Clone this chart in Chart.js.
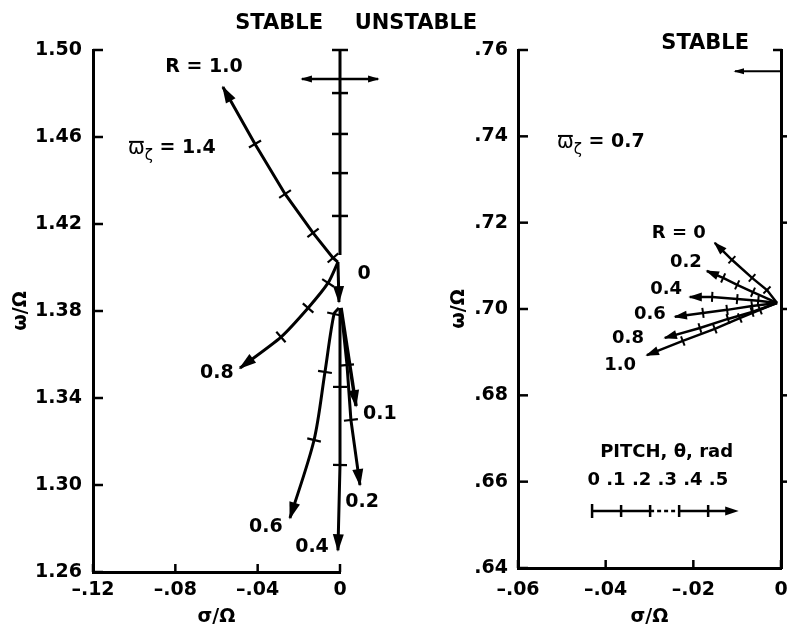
<!DOCTYPE html>
<html><head><meta charset="utf-8">
<script src="https://cdn.jsdelivr.net/npm/chart.js@4.4.1/dist/chart.umd.min.js"></script>
<style>
html,body{margin:0;padding:0;background:#fff;overflow:hidden;}
#wrap{position:relative;width:787px;height:628px;overflow:hidden;background:#fff;}
canvas{position:absolute;top:0;}
</style></head><body>
<div id="wrap">
<canvas id="leftChart" width="500" height="628" style="left:0px"></canvas>
<canvas id="rightChart" width="400" height="628" style="left:420px"></canvas>
</div>
<script>
// ===== Left panel (omega_zeta = 1.4) =====
const leftXTicks = [-0.12, -0.08, -0.04, 0];
const leftXTickLabels = ['\u2013.12', '\u2013.08', '\u2013.04', '0'];
const leftYTicks = [1.26, 1.30, 1.34, 1.38, 1.42, 1.46, 1.50];
const leftYTickLabels = ['1.26', '1.30', '1.34', '1.38', '1.42', '1.46', '1.50'];

const leftR10Sigma = [-0.0010, -0.0034, -0.0131, -0.0267, -0.0413, -0.0569];
const leftR10Omega = [1.4025, 1.4044, 1.4159, 1.4338, 1.4568, 1.4830];
const leftR08Sigma = [-0.0010, -0.0058, -0.0155, -0.0287, -0.0486];
const leftR08Omega = [1.4025, 1.3929, 1.3814, 1.3680, 1.3538];
const leftR0Sigma  = [-0.0010, -0.0005];
const leftR0Omega  = [1.4025, 1.3841];
const leftR01Sigma = [0.0005, 0.0078];
const leftR01Omega = [1.3814, 1.3363];
const leftR02Sigma = [0.0005, 0.0034, 0.0053, 0.0097];
const leftR02Omega = [1.3814, 1.3552, 1.3299, 1.3000];
const leftR04Sigma = [0.0000, 0.0000, 0.0000, -0.0010];
const leftR04Omega = [1.3814, 1.3451, 1.3092, 1.2700];
const leftR06Sigma = [-0.0005, -0.0029, -0.0073, -0.0126, -0.0243];
const leftR06Omega = [1.3814, 1.3786, 1.3520, 1.3207, 1.2848];
// stability boundary sigma = 0 with marks, and stable/unstable double arrow
const leftBoundSigma = [0, 0, 0, 0, 0, 0];
const leftBoundOmega = [1.5000, 1.4802, 1.4614, 1.4434, 1.4237, 1.4057];
const leftDirSigma = [-0.0185, 0.0185];
const leftDirOmega = [1.4867, 1.4867];

// ===== Right panel (omega_zeta = 0.7) =====
const rightXTicks = [-0.06, -0.04, -0.02, 0];
const rightXTickLabels = ['\u2013.06', '\u2013.04', '\u2013.02', '0'];
const rightYTicks = [0.64, 0.66, 0.68, 0.70, 0.72, 0.74, 0.76];
const rightYTickLabels = ['.64', '.66', '.68', '.70', '.72', '.74', '.76'];

const rightR0Sigma  = [-0.0009, -0.0032, -0.0066, -0.0112, -0.0151];
const rightR0Omega  = [0.7014, 0.7044, 0.7072, 0.7114, 0.7153];
const rightR02Sigma = [-0.0009, -0.0064, -0.0100, -0.0132, -0.0169];
const rightR02Omega = [0.7014, 0.7039, 0.7056, 0.7072, 0.7088];
const rightR04Sigma = [-0.0009, -0.0052, -0.0100, -0.0157, -0.0208];
const rightR04Omega = [0.7014, 0.7019, 0.7023, 0.7028, 0.7028];
const rightR06Sigma = [-0.0009, -0.0066, -0.0123, -0.0178, -0.0242];
const rightR06Omega = [0.7014, 0.7007, 0.6998, 0.6991, 0.6982];
const rightR08Sigma = [-0.0009, -0.0066, -0.0121, -0.0185, -0.0265];
const rightR08Omega = [0.7014, 0.6993, 0.6977, 0.6956, 0.6933];
const rightR10Sigma = [-0.0009, -0.0048, -0.0094, -0.0151, -0.0224, -0.0306];
const rightR10Omega = [0.7014, 0.6998, 0.6979, 0.6954, 0.6926, 0.6893];
const rightDirSigma = [0, -0.0105];
const rightDirOmega = [0.7551, 0.7551];

// pitch key (theta, rad)
const pitchKeyLabels = ['0', '.1', '.2', '.3', '.4', '.5'];

// ===== helpers =====
const FONT = '"DejaVu Sans", "Liberation Sans", sans-serif';
function pts(sig, om) { return sig.map((s, i) => ({ x: s, y: om[i] })); }
function line(sig, om, decor, width, tension) {
  return { data: pts(sig, om), showLine: true, borderColor: '#000', backgroundColor: '#000',
    borderWidth: width, pointRadius: 0, pointHoverRadius: 0, clip: false,
    tension: tension || 0, decor: decor };
}
function seg(ctx, x1, y1, x2, y2) { ctx.beginPath(); ctx.moveTo(x1, y1); ctx.lineTo(x2, y2); ctx.stroke(); }
function arrowHead(ctx, from, tip, len, w) {
  let dx = tip[0] - from[0], dy = tip[1] - from[1];
  const L = Math.hypot(dx, dy) || 1; dx /= L; dy /= L;
  const bx = tip[0] - dx * len, by = tip[1] - dy * len;
  ctx.beginPath(); ctx.moveTo(tip[0] + dx * 1.5, tip[1] + dy * 1.5);
  ctx.lineTo(bx - dy * w / 2, by + dx * w / 2);
  ctx.lineTo(bx + dy * w / 2, by - dx * w / 2);
  ctx.closePath(); ctx.fill();
}

const decorPlugin = {
  id: 'decor',
  afterDatasetsDraw(chart) {
    const ctx = chart.ctx;
    ctx.save(); ctx.strokeStyle = '#000'; ctx.fillStyle = '#000'; ctx.lineCap = 'butt';
    chart.data.datasets.forEach((ds, i) => {
      const d = ds.decor; if (!d) return;
      const els = chart.getDatasetMeta(i).data;
      const p = els.map(e => [e.x, e.y]);
      const n = p.length;
      ctx.lineWidth = d.tickW || 2;
      if (d.tickLen) {
        for (let k = 0; k < n - 1; k++) {
          if (k === 0 && !d.startTick) continue;
          const a = p[Math.max(0, k - 1)], b = p[Math.min(n - 1, k + 1)];
          let dx = b[0] - a[0], dy = b[1] - a[1];
          const L = Math.hypot(dx, dy) || 1; dx /= L; dy /= L;
          const h = d.tickLen / 2;
          seg(ctx, p[k][0] - dy * h, p[k][1] + dx * h, p[k][0] + dy * h, p[k][1] - dx * h);
        }
      }
      if (d.arrowEnd) {
        const last = els[n - 1];
        let from = p[n - 2];
        if (ds.tension && last.cp1x !== undefined && Math.hypot(last.cp1x - last.x, last.cp1y - last.y) > 2) from = [last.cp1x, last.cp1y];
        arrowHead(ctx, from, p[n - 1], d.headLen, d.headW);
      }
      if (d.arrowStart) arrowHead(ctx, p[1], p[0], d.headLen, d.headW);
    });
    ctx.restore();
  }
};

function axisTicksPlugin(cfg) {
  return {
    id: 'axisTicks',
    afterDraw(chart) {
      const { ctx, chartArea: ca, scales } = chart;
      ctx.save(); ctx.strokeStyle = '#000'; ctx.lineWidth = 2.5;
      scales.x.ticks.forEach(t => { const x = scales.x.getPixelForValue(t.value); seg(ctx, x, ca.bottom, x, ca.bottom - cfg.xLen); });
      scales.y.ticks.forEach(t => { const y = scales.y.getPixelForValue(t.value); seg(ctx, ca.left, y, ca.left + cfg.yLen, y); });
      if (scales.y2) {
        scales.y2.ticks.forEach(t => {
          const y = scales.y2.getPixelForValue(t.value);
          if (t.value === scales.y2.max) seg(ctx, ca.right - cfg.capLen, y, ca.right + 1, y);
          else if (t.value !== scales.y2.min) seg(ctx, ca.right, y, ca.right + cfg.outLen, y);
        });
      }
      ctx.restore();
    }
  };
}

function drawOmegaZeta(ctx, x, y, value) {
  ctx.textAlign = 'left'; ctx.textBaseline = 'middle';
  ctx.font = '20px ' + FONT;
  ctx.fillText('\u03c9', x, y + 1);
  const w = ctx.measureText('\u03c9').width;
  ctx.lineWidth = 2; seg(ctx, x + 1, y - 6, x + w - 1, y - 6);
  ctx.font = '15px ' + FONT;
  ctx.fillText('\u03b6', x + w, y + 8);
  const w2 = ctx.measureText('\u03b6').width;
  ctx.font = 'bold 19px ' + FONT;
  ctx.fillText(' = ' + value, x + w + w2, y);
}

function notesPlugin(notes, omegaNote, key) {
  return {
    id: 'notes',
    afterDraw(chart) {
      const { ctx, scales } = chart;
      const X = v => scales.x.getPixelForValue(v), Y = v => scales.y.getPixelForValue(v);
      ctx.save(); ctx.fillStyle = '#000'; ctx.strokeStyle = '#000';
      notes.forEach(n => {
        ctx.font = 'bold ' + n.size + 'px ' + FONT;
        ctx.textAlign = 'center'; ctx.textBaseline = 'middle';
        ctx.fillText(n.text, X(n.s), Y(n.o));
      });
      if (omegaNote) drawOmegaZeta(ctx, X(omegaNote.s), Y(omegaNote.o), omegaNote.value);
      if (key) {
        const x0 = X(key.s0), x1 = X(key.s1), y = Y(key.o);
        const step = (x1 - x0) / (pitchKeyLabels.length - 1);
        ctx.lineWidth = 2.5;
        seg(ctx, x0, y, x0 + 2 * step, y);
        ctx.setLineDash([4, 3]); seg(ctx, x0 + 2 * step, y, x0 + 3 * step, y); ctx.setLineDash([]);
        seg(ctx, x0 + 3 * step, y, x1 - 8, y);
        seg(ctx, x0, y - 7, x0, y + 7);
        for (let k = 1; k < pitchKeyLabels.length - 1; k++) seg(ctx, x0 + k * step, y - 6, x0 + k * step, y + 6);
        arrowHead(ctx, [x0, y], [x1, y], 12, 9);
        ctx.font = 'bold 18px ' + FONT; ctx.textAlign = 'center'; ctx.textBaseline = 'middle';
        ctx.fillText(pitchKeyLabels.join(' '), X(key.labelS), Y(key.labelO));
        ctx.fillText('PITCH, \u03b8, rad', X(key.titleS), Y(key.titleO));
      }
      ctx.restore();
    }
  };
}

function fixedScale(min, max, ticks) {
  return {
    bounds: 'data',
    afterDataLimits: s => { s.min = min; s.max = max; },
    afterBuildTicks: s => { s.ticks = ticks.map(v => ({ value: v })); s.min = min; s.max = max; }
  };
}

function makeOptions(p) {
  const tickFont = { family: FONT, size: 19, weight: 'bold' };
  const scales = {
    x: Object.assign({
      type: 'linear',
      afterFit: s => { s.height = p.xH; },
      grid: { drawOnChartArea: false, drawTicks: false },
      border: { display: true, width: 3, color: '#000' },
      ticks: { autoSkip: false, maxRotation: 0, color: '#000', padding: p.xPad, font: tickFont,
        callback: (v, i) => p.xLabels[i] },
      title: { display: true, text: '\u03c3/\u03a9', color: '#000', font: { family: FONT, size: 19, weight: 'bold' },
        padding: { top: 0, bottom: 0 } }
    }, fixedScale(p.xMin, p.xMax, p.xTicks)),
    y: Object.assign({
      type: 'linear', position: 'left',
      afterFit: s => { s.width = p.yW; },
      grid: { drawOnChartArea: false, drawTicks: false },
      border: { display: true, width: 3, color: '#000' },
      ticks: { autoSkip: false, color: '#000', padding: p.yPad, font: tickFont,
        callback: (v, i) => p.yLabels[i] },
      title: { display: true, text: '\u03c9/\u03a9', color: '#000', font: { family: FONT, size: 19, weight: 'bold' },
        padding: { top: p.yTitlePad, bottom: 0 } }
    }, fixedScale(p.yMin, p.yMax, p.yTicks))
  };
  if (p.rightAxis) {
    scales.y2 = Object.assign({
      type: 'linear', position: 'right',
      afterFit: s => { s.width = 0; },
      grid: { drawOnChartArea: false, drawTicks: false },
      border: { display: true, width: 3, color: '#000' },
      ticks: { display: false }
    }, fixedScale(p.yMin, p.yMax, p.yTicks));
  }
  return {
    responsive: false, animation: false, devicePixelRatio: 1, events: [],
    layout: { padding: { left: 0, top: p.top, right: p.right, bottom: 0 } },
    plugins: { legend: { display: false }, tooltip: { enabled: false } },
    scales: scales
  };
}

// ===== Left chart =====
const curveL = { tickLen: 14, tickW: 2.2, arrowEnd: true, headLen: 16, headW: 11 };
new Chart(document.getElementById('leftChart'), {
  type: 'scatter',
  data: { datasets: [
    line(leftR10Sigma, leftR10Omega, curveL, 3),
    line(leftR08Sigma, leftR08Omega, curveL, 3, 0.25),
    line(leftR0Sigma, leftR0Omega, curveL, 3),
    line(leftR01Sigma, leftR01Omega, curveL, 3.5),
    line(leftR02Sigma, leftR02Omega, curveL, 3),
    line(leftR04Sigma, leftR04Omega, curveL, 3),
    line(leftR06Sigma, leftR06Omega, curveL, 3, 0.3),
    line(leftBoundSigma, leftBoundOmega, { tickLen: 16, tickW: 2.5, startTick: true }, 3),
    line(leftDirSigma, leftDirOmega, { arrowEnd: true, arrowStart: true, headLen: 10, headW: 7 }, 2.5)
  ] },
  options: makeOptions({ xMin: -0.12, xMax: 0, yMin: 1.26, yMax: 1.50, xTicks: leftXTicks, xLabels: leftXTickLabels,
    yTicks: leftYTicks, yLabels: leftYTickLabels, xH: 56, yW: 93, xPad: 7, yPad: 11, yTitlePad: 10,
    top: 50, right: 160 }),
  plugins: [decorPlugin, axisTicksPlugin({ xLen: 8, yLen: 10 }),
    notesPlugin([
      { text: 'STABLE', s: -0.0296, o: 1.5120, size: 21 },
      { text: 'UNSTABLE', s: 0.0369, o: 1.5120, size: 21 },
      { text: 'R = 1.0', s: -0.0661, o: 1.4922, size: 19 },
      { text: '0', s: 0.0117, o: 1.3970, size: 19 },
      { text: '0.8', s: -0.0598, o: 1.3515, size: 19 },
      { text: '0.1', s: 0.0194, o: 1.3326, size: 19 },
      { text: '0.2', s: 0.0107, o: 1.2922, size: 19 },
      { text: '0.6', s: -0.0360, o: 1.2807, size: 19 },
      { text: '0.4', s: -0.0136, o: 1.2715, size: 19 }
    ], { s: -0.1030, o: 1.4550, value: '1.4' }, null)]
});

// ===== Right chart =====
const curveR = { tickLen: 10, tickW: 2, arrowEnd: true, headLen: 12, headW: 9 };
new Chart(document.getElementById('rightChart'), {
  type: 'scatter',
  data: { datasets: [
    line(rightR0Sigma, rightR0Omega, curveR, 2.5),
    line(rightR02Sigma, rightR02Omega, curveR, 2.5),
    line(rightR04Sigma, rightR04Omega, curveR, 2.5),
    line(rightR06Sigma, rightR06Omega, curveR, 2.5),
    line(rightR08Sigma, rightR08Omega, curveR, 2.5),
    line(rightR10Sigma, rightR10Omega, curveR, 2.5),
    line(rightDirSigma, rightDirOmega, { arrowEnd: true, headLen: 9, headW: 6 }, 2)
  ] },
  options: makeOptions({ xMin: -0.06, xMax: 0, yMin: 0.64, yMax: 0.76, xTicks: rightXTicks, xLabels: rightXTickLabels,
    yTicks: rightYTicks, yLabels: rightYTickLabels, xH: 60, yW: 98, xPad: 11, yPad: 10, yTitlePad: 28,
    top: 50, right: 39, rightAxis: true }),
  plugins: [decorPlugin, axisTicksPlugin({ xLen: 8, yLen: 10, capLen: 8, outLen: 8 }),
    notesPlugin([
      { text: 'STABLE', s: -0.0173, o: 0.7614, size: 21 },
      { text: 'R = 0', s: -0.0233, o: 0.7176, size: 18 },
      { text: '0.2', s: -0.0217, o: 0.7109, size: 18 },
      { text: '0.4', s: -0.0262, o: 0.7046, size: 18 },
      { text: '0.6', s: -0.0299, o: 0.6988, size: 18 },
      { text: '0.8', s: -0.0349, o: 0.6931, size: 18 },
      { text: '1.0', s: -0.0367, o: 0.6870, size: 18 }
    ], { s: -0.0511, o: 0.7387, value: '0.7' },
    { s0: -0.0431, s1: -0.0100, o: 0.6532, labelS: -0.0281, labelO: 0.6604, titleS: -0.0261, titleO: 0.6668 })]
});
</script>
</body></html>
